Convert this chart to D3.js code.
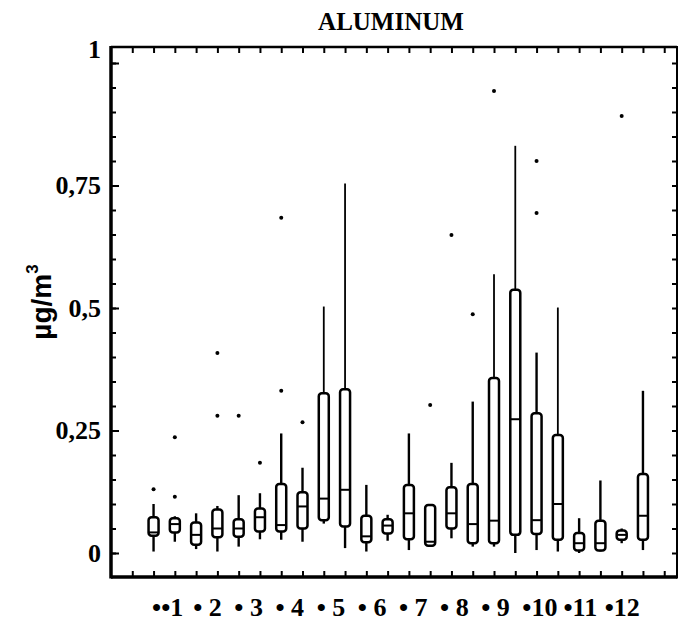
<!DOCTYPE html>
<html>
<head>
<meta charset="utf-8">
<script src="https://cdn.jsdelivr.net/npm/d3@7"></script>
<style>
  body { margin: 0; background: #fff; }
  svg { display: block; }
  .serif { font-family: "Liberation Serif", "Times New Roman", serif; font-weight: bold; fill: #000; }
  .frame line { stroke: #000; }
  .tick line { stroke: #000; stroke-width: 2; }
  .box rect { fill: #fff; stroke: #000; stroke-width: 2.5; }
  .box line { stroke: #000; stroke-width: 2.4; }
  .outlier { fill: #000; }
</style>
</head>
<body>
<div id="wrapper"></div>
<script>
// one box per half month, 24 in all
const monthLabels = ["••1", "• 2", "• 3", "• 4", "• 5", "• 6", "• 7", "• 8", "• 9", "•10", "•11", "•12"]
const yTickValues = [0, 0.25, 0.5, 0.75, 1]

const whiskerLow  = [0.003, 0.023, 0.008, 0.003, 0.013, 0.028, 0.027, 0.023, 0.060, 0.010, 0.003, 0.025,
                     0.006, 0.013, 0.030, 0.013, 0.013, 0.000, 0.006, 0.003, 0.000, 0.003, 0.020, 0.006]
const quartile1   = [0.035, 0.042, 0.017, 0.032, 0.033, 0.044, 0.044, 0.050, 0.067, 0.054, 0.022, 0.040,
                     0.028, 0.015, 0.050, 0.020, 0.020, 0.037, 0.039, 0.027, 0.005, 0.005, 0.027, 0.027]
const medians     = [0.042, 0.059, 0.037, 0.050, 0.050, 0.073, 0.057, 0.095, 0.111, 0.129, 0.034, 0.056,
                     0.081, 0.023, 0.081, 0.059, 0.066, 0.273, 0.067, 0.100, 0.020, 0.020, 0.037, 0.076]
const quartile3   = [0.073, 0.071, 0.062, 0.089, 0.069, 0.091, 0.141, 0.124, 0.326, 0.334, 0.076, 0.069,
                     0.139, 0.098, 0.134, 0.141, 0.357, 0.537, 0.285, 0.241, 0.041, 0.066, 0.046, 0.161]
const whiskerHigh = [0.100, 0.075, 0.081, 0.096, 0.118, 0.122, 0.244, 0.174, 0.503, 0.754, 0.139, 0.078,
                     0.244, 0.100, 0.184, 0.309, 0.569, 0.831, 0.409, 0.501, 0.071, 0.148, 0.050, 0.331]
const outliers    = [[0.130], [0.115, 0.236], [], [0.280, 0.408], [0.280], [0.184], [0.331, 0.684], [0.267],
                     [], [], [], [], [], [0.302], [0.649], [0.487], [0.943], [], [0.694, 0.800], [], [], [], [0.892], []]

function drawChart() {

  // 1. Access data
  const dataset = medians.map((m, i) => ({
    index: i,
    low: whiskerLow[i],
    q1: quartile1[i],
    median: m,
    q3: quartile3[i],
    high: whiskerHigh[i],
    outliers: outliers[i],
  }))

  // 2. Create chart dimensions
  let dimensions = {
    width: 681,
    height: 622,
    margin: {
      top: 47,
      right: 4,
      bottom: 45,
      left: 111,
    },
  }
  dimensions.boundedWidth = dimensions.width
    - dimensions.margin.left
    - dimensions.margin.right
  dimensions.boundedHeight = dimensions.height
    - dimensions.margin.top
    - dimensions.margin.bottom

  // 3. Draw canvas
  const wrapper = d3.select("#wrapper")
    .append("svg")
      .attr("width", dimensions.width)
      .attr("height", dimensions.height)

  const bounds = wrapper.append("g")
      .attr("transform", `translate(${dimensions.margin.left}, ${dimensions.margin.top})`)

  // 4. Create scales
  // the frame runs a little past 0 and 1 on the value axis
  const xScale = d3.scaleLinear()
    .domain([-2, 24.6])
    .range([0, dimensions.boundedWidth])

  const yScale = d3.scaleLinear()
    .domain([0, 1])
    .range([dimensions.boundedHeight - 24, 16])

  // month labels are set a little tighter than the box pairs
  const labelScale = d3.scalePoint()
    .domain(monthLabels)
    .range([xScale(-0.07), xScale(21.2)])

  // 5. Draw data
  const boxWidth = 10

  const boxes = bounds.append("g")
    .selectAll(".box")
    .data(dataset)
    .join("g")
      .attr("class", "box")
      .attr("transform", d => `translate(${xScale(d.index)}, 0)`)

  boxes.append("line")
      .attr("y1", d => yScale(d.high))
      .attr("y2", d => yScale(d.q3))
      .style("stroke-width", d => d.high > 0.5 ? 1.8 : null)
  boxes.append("line")
      .attr("y1", d => yScale(d.q1))
      .attr("y2", d => yScale(d.low))

  boxes.append("rect")
      .attr("x", -boxWidth / 2)
      .attr("y", d => yScale(d.q3))
      .attr("width", boxWidth)
      .attr("height", d => Math.max(3, yScale(d.q1) - yScale(d.q3)))
      .attr("rx", 3)

  boxes.append("line")
      .attr("x1", -boxWidth / 2)
      .attr("x2", boxWidth / 2)
      .attr("y1", d => yScale(d.median))
      .attr("y2", d => yScale(d.median))
      .style("stroke-width", 2)

  boxes.selectAll(".outlier")
    .data(d => d.outliers)
    .join("circle")
      .attr("class", "outlier")
      .attr("cy", d => yScale(d))
      .attr("r", 2)

  // 6. Draw peripherals
  const commaFormat = d => String(d).replace(".", ",")
  const minorTicks = d3.range(0, 1.0001, 0.05)
  const sideTicks = d3.range(-1, 25)

  const yAxis = bounds.append("g")
    .call(d3.axisLeft(yScale)
      .tickValues(yTickValues)
      .tickSize(-8)
      .tickPadding(10)
      .tickFormat(commaFormat))
  yAxis.selectAll("text")
      .attr("class", "serif")
      .style("font-size", "26px")
  yAxis.selectAll(".tick")
    .filter(d => d === 1)
    .select("text")
      .attr("dy", "-0.2em")

  bounds.append("g")
    .call(d3.axisLeft(yScale).tickValues(minorTicks).tickSize(-5).tickFormat(""))
  bounds.append("g")
      .attr("transform", `translate(${dimensions.boundedWidth}, 0)`)
    .call(d3.axisRight(yScale).tickValues(minorTicks).tickSize(-5).tickFormat(""))
  bounds.append("g")
    .call(d3.axisTop(xScale).tickValues(sideTicks).tickSize(-6).tickFormat(""))
  bounds.append("g")
      .attr("transform", `translate(0, ${dimensions.boundedHeight})`)
    .call(d3.axisBottom(xScale).tickValues(sideTicks).tickSize(-6).tickFormat(""))

  bounds.selectAll(".domain").remove()

  const frame = bounds.append("g")
      .attr("class", "frame")
  frame.append("line")
      .attr("x1", 0).attr("x2", dimensions.boundedWidth)
      .attr("y1", 0).attr("y2", 0)
      .style("stroke-width", 2.5)
  frame.append("line")
      .attr("x1", 0).attr("x2", dimensions.boundedWidth)
      .attr("y1", dimensions.boundedHeight).attr("y2", dimensions.boundedHeight)
      .style("stroke-width", 3.5)
  frame.append("line")
      .attr("x1", 0).attr("x2", 0)
      .attr("y1", -1).attr("y2", dimensions.boundedHeight + 1.5)
      .style("stroke-width", 3.5)
  frame.append("line")
      .attr("x1", dimensions.boundedWidth).attr("x2", dimensions.boundedWidth)
      .attr("y1", -1).attr("y2", dimensions.boundedHeight + 1.5)
      .style("stroke-width", 2)

  bounds.append("g")
    .selectAll("text")
    .data(monthLabels)
    .join("text")
      .attr("class", "serif")
      .attr("x", d => labelScale(d))
      .attr("y", dimensions.boundedHeight + 39)
      .style("font-size", "26px")
      .text(d => d)

  wrapper.append("text")
      .attr("class", "serif")
      .attr("x", 391)
      .attr("y", 30)
      .attr("text-anchor", "middle")
      .style("font-size", "25px")
      .text("ALUMINUM")

  const yLabel = wrapper.append("text")
      .attr("transform", "translate(51, 302) rotate(-90)")
      .attr("text-anchor", "middle")
      .style("font-family", "'Liberation Sans', Arial, sans-serif")
      .style("font-weight", "bold")
      .style("font-size", "28px")
  yLabel.append("tspan").text("µg/m")
  yLabel.append("tspan")
      .attr("dy", "-0.75em")
      .style("font-size", "17px")
      .text("3")

}
drawChart()
</script>
</body>
</html>
